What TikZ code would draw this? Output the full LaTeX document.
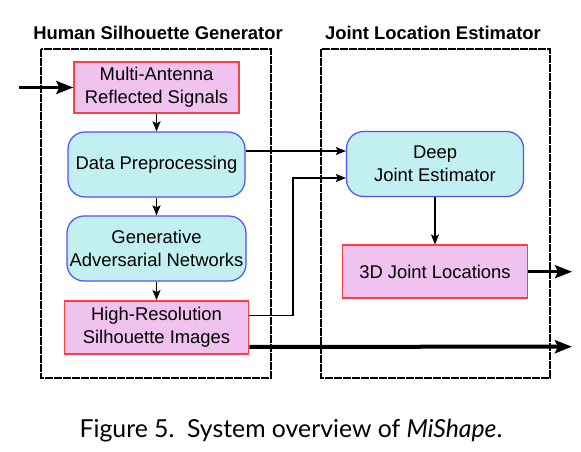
\documentclass[tikz,border=0pt]{standalone}
\usepackage{fontspec}
\setmainfont{Liberation Sans}
\newfontfamily\capfont{Lato}
\usetikzlibrary{arrows.meta}

\definecolor{sigfill}{RGB}{240,194,240}
\definecolor{sigline}{RGB}{250,64,64}
\definecolor{netfill}{RGB}{194,240,240}
\definecolor{netline}{RGB}{80,80,250}

\begin{document}
\begin{tikzpicture}[x=1pt, y=-1pt,
    every node/.style={font=\fontsize{18.4}{23}\selectfont, align=center, inner sep=0pt},
    data/.style={draw=sigline, fill=sigfill, line width=1.5pt},
    net/.style={draw=netline, fill=netfill, line width=1.2pt, rounded corners=17pt},
    frame/.style={line width=1.8pt, dash pattern=on 8pt off 1pt},
    arr/.style={line width=1.5pt, -{Stealth[length=10pt, width=8pt, inset=2pt]}},
    bigarr/.style={line width=3pt, -{Stealth[length=17pt, width=13pt, inset=3pt]}}]
                \useasboundingbox (0,0) rectangle (581,452);
                \draw[frame] (41,49) rectangle (271,378);
                \draw[frame] (321,49) rectangle (550,378);
                \node[font=\fontsize{18.4}{23}\selectfont\bfseries] (gen) at (158,33) {Human Silhouette Generator};
                \node[font=\fontsize{18.4}{23}\selectfont\bfseries] (jle) at (433,33) {Joint Location Estimator};
                \node[data, minimum width=165pt, minimum height=51pt] (sig) at (156.5,87.5) {Multi-Antenna\\Reflected Signals};
                \node[net, minimum width=177pt, minimum height=65pt] (pre) at (156.5,164.5) {Data Preprocessing};
                \node[net, minimum width=179pt, minimum height=65pt] (gan) at (156.5,248.5) {Generative\\Adversarial Networks};
                \node[data, minimum width=184pt, minimum height=53pt] (img) at (156.5,327.3) {High-Resolution\\Silhouette Images};
                \node[net, minimum width=177pt, minimum height=65pt] (est) at (435,164) {Deep\\Joint Estimator};
                \node[data, minimum width=185pt, minimum height=53pt] (loc) at (435,271.7) {3D Joint Locations};
                \node[font=\capfont\fontsize{24.8}{28}\selectfont, anchor=base] (cap) at (291,437) {Figure 5.\ \ System overview of \textit{MiShape}.};
                \coordinate (in) at (19,87.5);
                \coordinate (bend) at (293,178);
                \coordinate (out1) at (572,271.7);
                \coordinate (out2) at (572,346.7);
                \draw[bigarr] (in) -- (sig);
                \draw[arr] (sig) -- (pre);
                \draw[arr] (pre) -- (gan);
                \draw[arr] (gan) -- (img);
                \draw[arr] ([yshift=13.5pt]pre.east) -- ([yshift=13.5pt]pre.east -| est.west);
                \draw[arr] ([yshift=12pt]img.east) -| (bend) -- (bend -| est.west);
                \draw[arr] (est) -- (loc);
                \draw[bigarr] (loc) -- (out1);
                \draw[bigarr, line width=4pt] ([yshift=-19.5pt]img.east) -- (out2);
\end{tikzpicture}
\end{document}
